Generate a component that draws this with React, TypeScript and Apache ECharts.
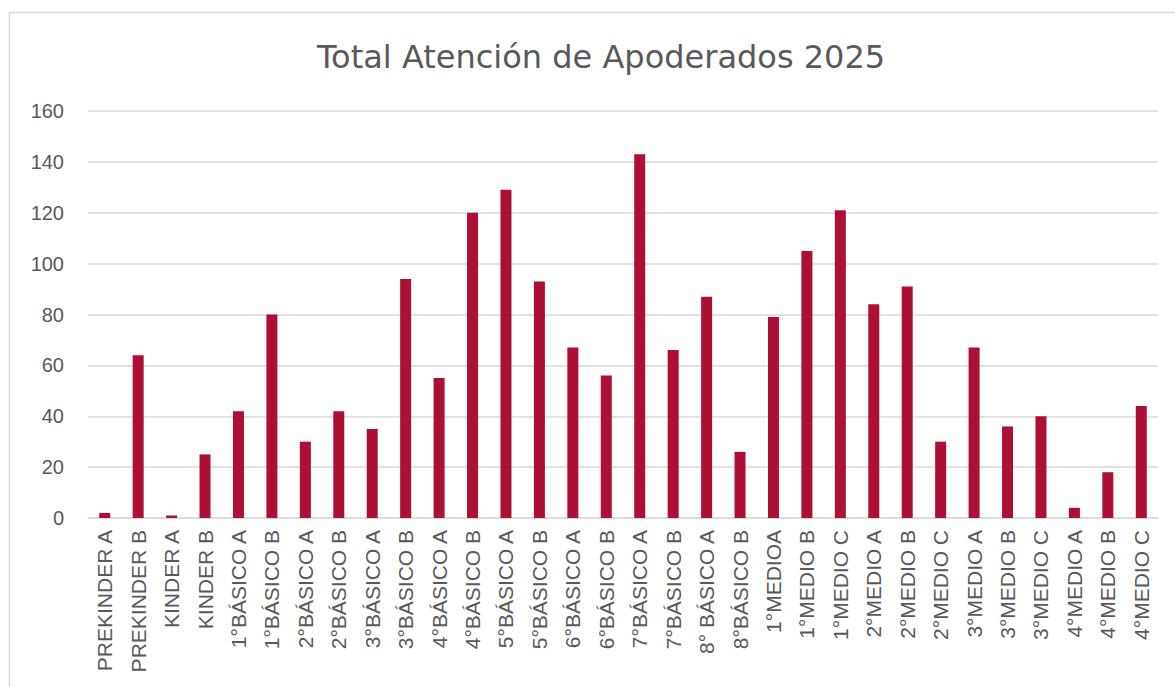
import React, { useEffect, useRef } from "react";
import * as echarts from "echarts";

const categories = [
  "PREKINDER A", "PREKINDER B", "KINDER A", "KINDER B",
  "1°BÁSICO A", "1°BÁSICO B", "2°BÁSICO A", "2°BÁSICO B",
  "3°BÁSICO A", "3°BÁSICO B", "4°BÁSICO A", "4°BÁSICO B",
  "5°BÁSICO A", "5°BÁSICO B", "6°BÁSICO A", "6°BÁSICO B",
  "7°BÁSICO A", "7°BÁSICO B", "8° BÁSICO A", "8°BÁSICO B",
  "1°MEDIOA", "1°MEDIO B", "1°MEDIO C", "2°MEDIO A",
  "2°MEDIO B", "2°MEDIO C", "3°MEDIO A", "3°MEDIO B",
  "3°MEDIO C", "4°MEDIO A", "4°MEDIO B", "4°MEDIO C",
];

const values = [
  2, 64, 1, 25,
  42, 80, 30, 42,
  35, 94, 55, 120,
  129, 93, 67, 56,
  143, 66, 87, 26,
  79, 105, 121, 84,
  91, 30, 67, 36,
  40, 4, 18, 44,
];

const title = "Total Atención de Apoderados 2025";

export default function App() {
  const ref = useRef<HTMLDivElement>(null);
  useEffect(() => {
    if (!ref.current) return;
    const chart = echarts.init(ref.current, null, { renderer: "svg" });
    const font = "'Liberation Sans', Arial, sans-serif";
    chart.setOption({
      animation: false,
      backgroundColor: "#ffffff",
      title: {
        text: title,
        left: 312,
        top: 36,
        textStyle: {
          fontFamily: "'DejaVu Sans', sans-serif",
          fontSize: 32,
          fontWeight: "normal",
          color: "#595959",
        },
      },
      graphic: [
        {
          type: "rect",
          shape: { x: 9.5, y: 12.5, width: 1200, height: 700 },
          style: { fill: "none", stroke: "#d9d9d9", lineWidth: 1.5 },
          silent: true,
        },
      ],
      grid: { left: 88, right: 17, top: 111, bottom: 169, containLabel: false },
      xAxis: {
        type: "category",
        data: categories,
        axisLine: { lineStyle: { color: "#d9d9d9", width: 1.5 } },
        axisTick: { show: false },
        axisLabel: {
          rotate: 90,
          interval: 0,
          margin: 12,
          fontFamily: font,
          fontSize: 21,
          color: "#595959",
        },
      },
      yAxis: {
        type: "value",
        min: 0,
        max: 160,
        interval: 20,
        axisLine: { show: false },
        axisTick: { show: false },
        splitLine: { lineStyle: { color: "#d9d9d9", width: 1.5 } },
        axisLabel: {
          margin: 24,
          fontFamily: font,
          fontSize: 20,
          color: "#595959",
        },
      },
      series: [
        {
          type: "bar",
          data: values,
          barWidth: 11,
          itemStyle: { color: "#ae0f36" },
        },
      ],
    });
    return () => chart.dispose();
  }, []);
  return (
    <div
      ref={ref}
      style={{ position: "fixed", left: 0, top: 0, width: 1175, height: 687 }}
    />
  );
}
